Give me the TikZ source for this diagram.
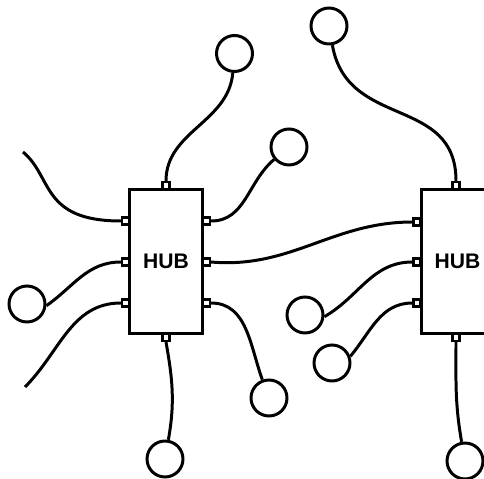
\documentclass[tikz,border=0pt]{standalone}
\usepackage{fontspec}
\setmainfont{Liberation Sans}
\begin{document}
\begin{tikzpicture}[x=0.02cm, y=-0.02cm]

    \tikzstyle{hub} = [rectangle, draw, line width=1.7pt, minimum width=1.46cm, minimum height=2.9cm, font=\fontsize{12}{14}\selectfont\bfseries]
    \tikzstyle{port} = [rectangle, draw, fill=white, line width=1.2pt, minimum size=0.14cm, inner sep=0pt]
    \tikzstyle{station} = [circle, draw, line width=1.7pt, minimum size=0.72cm, inner sep=0pt]
    \tikzstyle{cable} = [line width=1.7pt]

    \useasboundingbox (0,0) rectangle (484,479);
    \clip (0,0) rectangle (484,479);

    \node (hubA) [hub] at (166,261.5) {HUB};
    \node (hubB) [hub] at (457.5,261.5) {HUB};

    \node (aw1) [port] at (125.5,221) {};
    \node (aw2) [port] at (125.5,262) {};
    \node (aw3) [port] at (125.5,303) {};
    \node (ae1) [port] at (206.5,221) {};
    \node (ae2) [port] at (206.5,262) {};
    \node (ae3) [port] at (206.5,303) {};
    \node (aTop) [port] at (166,185.5) {};
    \node (aBot) [port] at (166,337.5) {};

    \node (bw1) [port] at (417,222) {};
    \node (bw2) [port] at (417,262) {};
    \node (bw3) [port] at (417,303) {};
    \node (bTop) [port] at (456,185.5) {};
    \node (bBot) [port] at (456,337.5) {};

    \node (st1) [station] at (234.5,53.5) {};
    \node (st2) [station] at (329,26) {};
    \node (st3) [station] at (289,147) {};
    \node (st4) [station] at (27,304) {};
    \node (st5) [station] at (305,315) {};
    \node (st6) [station] at (332,363) {};
    \node (st7) [station] at (269,398) {};
    \node (st8) [station] at (165,459) {};
    \node (st9) [station] at (465,461) {};

    \coordinate (endA) at (23,152);
    \coordinate (endB) at (25,387);

    \draw [cable] (st1) to[out=-95, in=90] (aTop.north);
    \draw [cable] (st2) to[out=-80, in=90, looseness=1.2] (bTop.north);
    \draw [cable] (st3) to[out=220, in=0] (ae1.east);
    \draw [cable] (st4.-5) to[out=35, in=180] (aw2.west);
    \draw [cable] (endA) .. controls +(30,25) and +(-80,0) .. (aw1.west);
    \draw [cable] (endB) to[out=45, in=180] (aw3.west);
    \draw [cable] (ae2.east) to[out=-5, in=180] (bw1.west);
    \draw [cable] (st5.-5) to[out=30, in=180] (bw2.west);
    \draw [cable] (st6.20) to[out=50, in=180] (bw3.west);
    \draw [cable] (st7) to[out=110, in=0] (ae3.east);
    \draw [cable] (st8) to[out=80, in=-80] (aBot.south);
    \draw [cable] (st9) to[out=100, in=-90] (bBot.south);

\end{tikzpicture}
\end{document}
